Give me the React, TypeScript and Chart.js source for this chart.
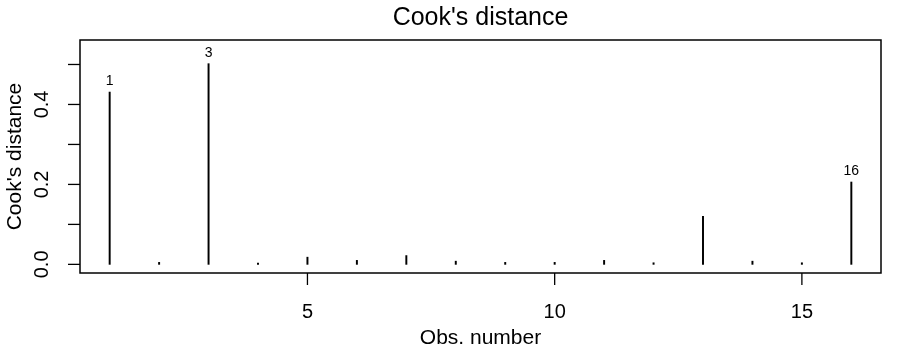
import React, { useEffect, useRef } from "react";
import { Chart, registerables } from "chart.js";

Chart.register(...registerables);

const obsNumbers = [1, 2, 3, 4, 5, 6, 7, 8, 9, 10, 11, 12, 13, 14, 15, 16];
const cooksDistance = [0.431, 0.005, 0.502, 0.003, 0.018, 0.01, 0.022, 0.008, 0.005, 0.005, 0.01, 0.004, 0.12, 0.008, 0.004, 0.206];
const labelledObs = [1, 3, 16];
const xTicks = [5, 10, 15];
const yTickMarks = [0, 0.1, 0.2, 0.3, 0.4, 0.5];
const yTickLabels = ["0.0", "0.2", "0.4"];
const yTickLabelValues = [0, 0.2, 0.4];
const titleText = "Cook's distance";
const xTitle = "Obs. number";
const yTitle = "Cook's distance";

const FONT = "'Liberation Sans', Arial, sans-serif";

export default function App() {
  const ref = useRef<HTMLCanvasElement | null>(null);

  useEffect(() => {
    if (!ref.current) return;
    const maxV = Math.max(...cooksDistance);
    const U = maxV * 1.075;
    const yMin = -0.04 * U;
    const yMax = 1.04 * U;

    const axesPlugin = {
      id: "rAxes",
      afterDraw(chart: any) {
        const ctx = chart.ctx;
        const { left, right, top, bottom } = chart.chartArea;
        const xs = chart.scales.x;
        const ys = chart.scales.y;
        ctx.save();
        ctx.strokeStyle = "#000";
        ctx.fillStyle = "#000";
        ctx.lineWidth = 1.5;
        ctx.strokeRect(left, top, right - left, bottom - top);

        // x ticks
        ctx.lineWidth = 1.3;
        ctx.font = `20px ${FONT}`;
        ctx.textAlign = "center";
        ctx.textBaseline = "middle";
        xTicks.forEach((t) => {
          const px = xs.getPixelForValue(t);
          ctx.beginPath();
          ctx.moveTo(px, bottom);
          ctx.lineTo(px, bottom + 12);
          ctx.stroke();
          ctx.fillText(String(t), px, 312);
        });
        // y ticks
        yTickMarks.forEach((t) => {
          const py = ys.getPixelForValue(t);
          ctx.beginPath();
          ctx.moveTo(left, py);
          ctx.lineTo(left - 12, py);
          ctx.stroke();
        });
        yTickLabels.forEach((lab, i) => {
          const py = ys.getPixelForValue(yTickLabelValues[i]);
          ctx.save();
          ctx.translate(42, py);
          ctx.rotate(-Math.PI / 2);
          ctx.fillText(lab, 0, 0);
          ctx.restore();
        });
        // axis titles
        ctx.font = `21px ${FONT}`;
        ctx.fillText(xTitle, (left + right) / 2, 338);
        ctx.save();
        ctx.translate(15, (top + bottom) / 2);
        ctx.rotate(-Math.PI / 2);
        ctx.fillText(yTitle, 0, 0);
        ctx.restore();
        // main title
        ctx.font = `25px ${FONT}`;
        ctx.fillText(titleText, (left + right) / 2, 18);
        // point labels
        ctx.font = `14px ${FONT}`;
        labelledObs.forEach((o) => {
          const idx = obsNumbers.indexOf(o);
          const px = xs.getPixelForValue(o);
          const py = ys.getPixelForValue(cooksDistance[idx]);
          ctx.fillText(String(o), px, py - 11);
        });
        ctx.restore();
      },
    };

    const chart = new Chart(ref.current, {
      type: "bar",
      data: {
        datasets: [
          {
            data: obsNumbers.map((o, i) => ({ x: o, y: cooksDistance[i] })),
            backgroundColor: "#000",
            borderWidth: 0,
            barThickness: 1.3,
          },
        ],
      },
      options: {
        animation: false,
        responsive: false,
        maintainAspectRatio: false,
        layout: { padding: { left: 80, right: 38, top: 40, bottom: 82 } },
        plugins: { legend: { display: false }, tooltip: { enabled: false }, title: { display: false } },
        scales: {
          x: { type: "linear", display: false, min: 0.4, max: 16.6, offset: false },
          y: { type: "linear", display: false, min: yMin, max: yMax },
        },
      },
      plugins: [axesPlugin],
    } as any);
    return () => chart.destroy();
  }, []);

  return (
    <div style={{ position: "fixed", left: 0, top: 0, width: 919, height: 355, background: "#fff" }}>
      <canvas ref={ref} width={919} height={355} style={{ width: 919, height: 355 }} />
    </div>
  );
}
